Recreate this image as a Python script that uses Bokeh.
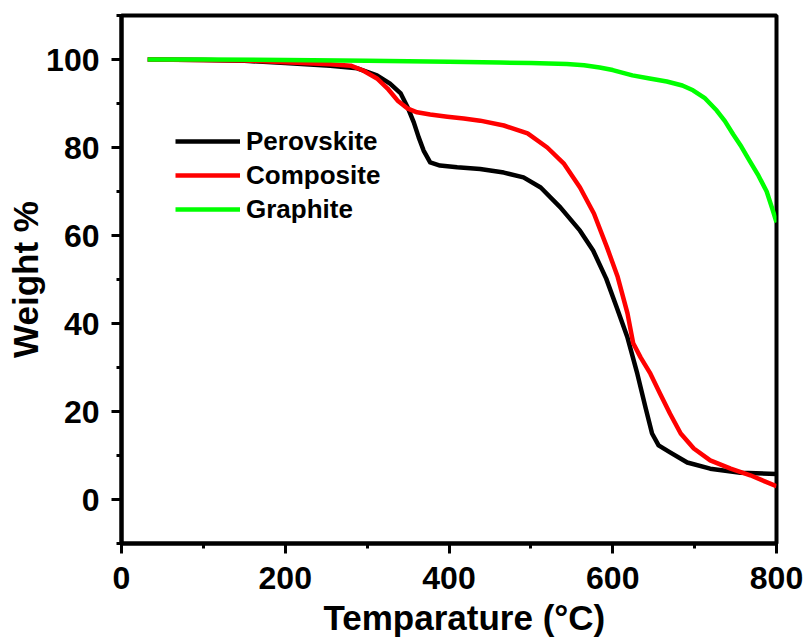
from bokeh.plotting import figure
from bokeh.models import Range1d, SingleIntervalTicker, Legend, LegendItem, Title
from bokeh.embed import file_html
from bokeh.resources import INLINE

# Temperature (°C) and weight (%)
temp_perovskite = [32, 100, 150, 200, 255, 288, 312, 328, 341, 350, 357, 363, 369, 377, 389,
                   410, 438, 467, 491, 512, 536, 560, 576, 592, 605, 618, 630, 640, 648, 656,
                   670, 691, 719, 756, 800]
weight_perovskite = [100, 99.9, 99.7, 99.2, 98.6, 98.0, 96.4, 94.5, 92.3, 88.9, 85.7, 82.3, 79.3,
                     76.6, 75.9, 75.5, 75.1, 74.3, 73.2, 70.9, 66.4, 61.1, 56.6, 50.2, 43.6,
                     36.8, 28.6, 20.9, 15.0, 12.3, 10.7, 8.4, 7.0, 6.1, 5.8]

temp_composite = [32, 150, 200, 255, 280, 295, 312, 325, 337, 349, 361, 377, 398, 418, 438, 467,
                  496, 520, 540, 560, 577, 593, 606, 618, 625, 634, 646, 658, 670, 683, 699,
                  719, 744, 768, 800]
weight_composite = [100, 99.8, 99.4, 98.9, 98.6, 97.5, 95.7, 93.4, 90.7, 88.9, 88.0, 87.5, 87.0,
                    86.6, 86.1, 85.0, 83.2, 80.0, 76.4, 70.9, 65.0, 57.3, 50.6, 42.3, 35.5, 32.3,
                    28.6, 24.0, 19.5, 15.0, 11.6, 8.9, 7.0, 5.5, 3.0]

temp_graphite = [32, 100, 200, 300, 400, 462, 500, 544, 565, 584, 600, 624, 645, 666, 685, 698,
                 712, 727, 737, 747, 757, 767, 778, 788, 795, 800]
weight_graphite = [100, 100, 99.9, 99.7, 99.5, 99.3, 99.2, 99.0, 98.7, 98.2, 97.6, 96.4, 95.7,
                   95.0, 94.1, 93.0, 91.3, 88.4, 86.0, 83.0, 80.2, 77.0, 73.6, 70.0, 66.0, 63.0]

series_names = ["Perovskite", "Composite", "Graphite"]
series_colors = ["#000000", "#ff0000", "#00ff00"]
x_title = "Temparature (°C)"
y_title = "Weight %"

FONT = "Liberation Sans"

p = figure(width=809, height=644, output_backend="svg", toolbar_location=None,
           x_range=Range1d(0, 800), y_range=Range1d(-10, 110),
           min_border_left=121, min_border_right=33, min_border_top=15,
           min_border_bottom=101)

p.background_fill_color = "white"
p.border_fill_color = "white"
p.xgrid.visible = False
p.ygrid.visible = False
p.outline_line_color = "black"
p.outline_line_width = 4
p.outline_line_alpha = 1

p.xaxis.ticker = SingleIntervalTicker(interval=200, num_minor_ticks=2)
p.yaxis.ticker = SingleIntervalTicker(interval=20, num_minor_ticks=2)

for ax in (p.xaxis, p.yaxis):
    ax.axis_line_width = 4
    ax.axis_line_color = "black"
    ax.major_tick_in = 0
    ax.major_tick_out = 10
    ax.minor_tick_in = 0
    ax.minor_tick_out = 5
    ax.major_tick_line_width = 3
    ax.minor_tick_line_width = 3
    ax.major_label_text_font = FONT
    ax.major_label_text_font_style = "bold"
    ax.major_label_text_font_size = "32px"
    ax.major_label_text_color = "black"
    ax.axis_label_text_font = FONT
    ax.axis_label_text_font_style = "bold"
    ax.axis_label_text_font_size = "35px"
    ax.axis_label_text_color = "black"

p.yaxis.axis_label = y_title
p.xaxis.major_label_standoff = 13
p.yaxis.major_label_standoff = 12
p.yaxis.axis_label_standoff = -2

# x-axis title placed a little right of the frame centre, as in the reference
xtitle = Title(text=x_title, align="left", offset=202, standoff=8,
               text_font=FONT, text_font_style="bold", text_font_size="35px",
               text_color="black")
p.add_layout(xtitle, "below")

r1 = p.line(temp_perovskite, weight_perovskite, line_color=series_colors[0], line_width=4.5,
            line_join="round")
r2 = p.line(temp_composite, weight_composite, line_color=series_colors[1], line_width=4.5,
            line_join="round")
r3 = p.line(temp_graphite, weight_graphite, line_color=series_colors[2], line_width=4.5,
            line_join="round")

legend = Legend(items=[LegendItem(label=series_names[0], renderers=[r1]),
                       LegendItem(label=series_names[1], renderers=[r2]),
                       LegendItem(label=series_names[2], renderers=[r3])],
                location=(54, 317))
legend.border_line_color = None
legend.background_fill_alpha = 0
legend.padding = 0
legend.margin = 0
legend.spacing = 0
legend.glyph_width = 65
legend.glyph_height = 34
legend.label_height = 34
legend.label_standoff = 6
legend.label_text_font = FONT
legend.label_text_font_style = "bold"
legend.label_text_font_size = "26px"
legend.label_text_color = "black"
p.add_layout(legend, "center")

open("out.html", "w").write(file_html(p, INLINE))
